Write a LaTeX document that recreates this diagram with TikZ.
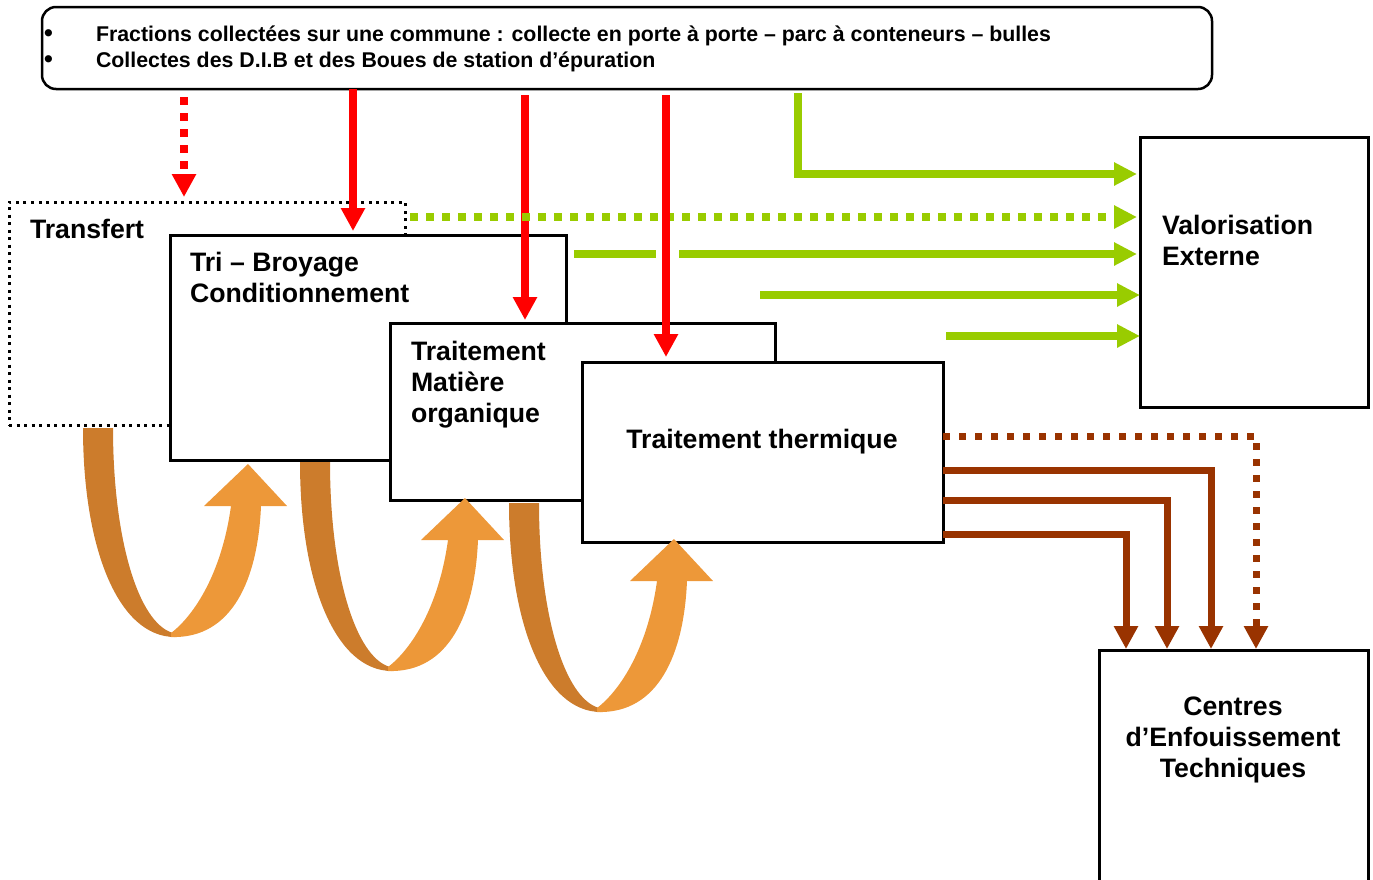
\documentclass[tikz,border=0pt]{standalone}
\usepackage{fontspec}
\setmainfont{Liberation Sans}
\usetikzlibrary{arrows.meta,calc}

\definecolor{redflow}{RGB}{255,0,0}
\definecolor{greenflow}{RGB}{153,204,0}
\definecolor{brownflow}{RGB}{153,51,0}
\definecolor{turndark}{RGB}{204,124,44}
\definecolor{turnlight}{RGB}{237,152,57}

\newcommand{\listdot}{\makebox[52pt][l]{\smash{\fontsize{25}{26}\selectfont\textbullet}}}

\tikzset{
  box/.style={draw=black, line width=3pt, fill=white, rectangle,
    inner sep=0pt, outer sep=0pt, anchor=north west},
  dotbox/.style={box, line width=3pt, dash pattern=on 3pt off 4.5pt},
  lbl/.style={inner sep=0pt, outer sep=0pt,
    font=\fontsize{26.67}{31}\selectfont\bfseries},
  toplbl/.style={inner sep=0pt, outer sep=0pt, anchor=base west,
    font=\fontsize{21.33}{26}\selectfont\bfseries},
  redarrow/.style={draw=redflow, line width=8pt, line cap=butt,
    -{Triangle[width=23pt,length=23pt]}},
  greenline/.style={draw=greenflow, line width=8pt, line cap=butt, line join=miter},
  greenarrow/.style={greenline, -{Triangle[width=22pt,length=23pt]}},
  brownarrow/.style={draw=brownflow, line width=7pt, line cap=butt, line join=miter,
    -{Triangle[width=23pt,length=23pt]}},
  dotflow/.style={dash pattern=on 8pt off 8pt},
  uturn/.pic={
    % back half of the ribbon
    \fill[turndark] (0,0) -- (30,0)
      .. controls (30,110) and (55,195) .. (90,205)
      -- (92,209)
      .. controls (35,209) and (0,120) .. (0,0) -- cycle;
    % front half, rising into the arrow head
    \fill[turnlight] (88,209)
      .. controls (150,211) and (175,150) .. (178,78)
      -- (204,78) -- (165,36) -- (121,78) -- (148,78)
      .. controls (138,150) and (108,190) .. (88,205) -- cycle;
  }
}

\begin{document}
\begin{tikzpicture}[x=1pt,y=-1pt]
\useasboundingbox (0,0) rectangle (1373,879);

% processing units, back to front
\node[dotbox, minimum width=396pt, minimum height=223pt] (transfert) at (9,202) {};
\node[box, minimum width=396pt, minimum height=225pt] (tri) at (170,235) {};
\node[box, minimum width=385pt, minimum height=177pt] (tmo) at (390,323) {};
\node[box, minimum width=361pt, minimum height=180pt] (therm) at (582,362) {};
\node[box, minimum width=228pt, minimum height=270pt] (valo) at (1140,137) {};
\node[box, minimum width=269pt, minimum height=245pt] (cet) at (1099,650) {};
\node[box, line width=2.5pt, rounded corners=14pt,
      minimum width=1170pt, minimum height=82pt] (collecte) at (42,7) {};

% labels
\node[lbl, anchor=north west] (ltransfert) at (30,219) {Transfert};
\node[lbl, anchor=north west, align=left] (ltri) at (190,252)
  {Tri -- Broyage\\Conditionnement};
\node[lbl, anchor=north west, align=left] (ltmo) at (411,341)
  {Traitement\\Matière\\organique};
\node[lbl, anchor=base] (ltherm) at (762,448) {Traitement thermique};
\node[lbl, anchor=north west, align=left] (lvalo) at (1162,215)
  {Valorisation\\Externe};
\node[lbl, anchor=north, align=center] (lcet) at (1233,697)
  {Centres\\d’Enfouissement\\Techniques};
\node[toplbl] (lcol1) at (44,41)
  {\listdot Fractions collectées sur une commune : collecte en porte à porte -- parc à conteneurs -- bulles};
\node[toplbl] (lcol2) at (44,67)
  {\listdot Collectes des D.I.B et des Boues de station d’épuration};

% incoming collections
\coordinate (r0) at (184,97);
\coordinate (r1) at (353,89);
\coordinate (r2) at (525,95);
\coordinate (r3) at (666,95);
\draw[redarrow, dotflow, shorten >=5pt] (r0) -- (r0 |- transfert.north);
\draw[redarrow, shorten >=4pt] (r1) -- (r1 |- tri.north);
\draw[redarrow, shorten >=3pt] (r2) -- (r2 |- tmo.north);

% outgoing flows to external recovery
\coordinate (g1) at (798,93);
\coordinate (g1k) at (798,174);
\coordinate (g2) at (410,217);
\coordinate (g3) at (574,254);
\coordinate (g3b) at (679,254);
\coordinate (g4) at (760,295);
\coordinate (g5) at (946,336);
\draw[greenarrow, shorten >=3pt] (g1) -- (g1k) -- (g1k -| valo.west);
\draw[greenarrow, dotflow, shorten >=3pt] (g2) -- (g2 -| valo.west);
\draw[greenline] (g3) -- ($(g3)+(82,0)$);
\draw[greenarrow, shorten >=3pt] (g3b) -- (g3b -| valo.west);
\draw[greenarrow, shorten >=0pt] (g4) -- (g4 -| valo.west);
\draw[greenarrow, shorten >=0pt] (g5) -- (g5 -| valo.west);

% red feed crossing over the green flow
\draw[redarrow, shorten >=5pt] (r3) -- (r3 |- therm.north);

% residues to landfill
\coordinate (b0) at (943,436);
\coordinate (b0x) at (1256,436);
\coordinate (b1) at (943,470);
\coordinate (b1x) at (1211,470);
\coordinate (b2) at (943,500);
\coordinate (b2x) at (1167,500);
\coordinate (b3) at (943,534);
\coordinate (b3x) at (1126,534);
\draw[brownarrow, dash pattern=on 7pt off 9pt, shorten >=1pt] (b0) -| (b0x |- cet.north);
\draw[brownarrow, shorten >=1pt] (b1) -| (b1x |- cet.north);
\draw[brownarrow, shorten >=1pt] (b2) -| (b2x |- cet.north);
\draw[brownarrow, shorten >=1pt] (b3) -| (b3x |- cet.north);

% internal loops between stages
\pic at (83,428) {uturn};
\pic at (300,462) {uturn};
\pic at (509,503) {uturn};
\end{tikzpicture}
\end{document}
